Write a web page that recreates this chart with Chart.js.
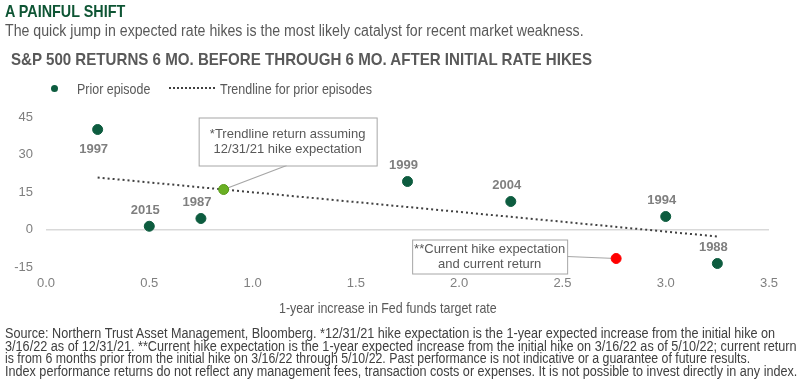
<!DOCTYPE html>
<html>
<head>
<meta charset="utf-8">
<script src="https://cdn.jsdelivr.net/npm/chart.js@4.4.1/dist/chart.umd.min.js"></script>
<style>
  body { margin: 0; width: 800px; height: 379px; position: relative; background: #fff; overflow: hidden;
         font-family: "Liberation Sans Narrow", "Arial Narrow", "Liberation Sans", Arial, sans-serif; }
  #wrap { position: absolute; left: 0; top: 0; width: 800px; height: 379px; }
  .t { position: absolute; white-space: nowrap; transform-origin: 0 50%; line-height: 1; z-index: 2; }
  .dot { position: absolute; width: 7px; height: 7px; border-radius: 50%; background: #0d5c3f; z-index: 2; }
  .dash { position: absolute; width: 46px; border-top: 2px dotted #404040; z-index: 2; }
</style>
</head>
<body>
<div id="wrap"><canvas id="chart" width="800" height="379"></canvas></div>

<div class="t" data-w="120" style="left:5px;top:3px;font-size:17px;font-weight:bold;color:#0e5534">A PAINFUL SHIFT</div>
<div class="t" data-w="579" style="left:5px;top:23px;font-size:16px;color:#595959">The quick jump in expected rate hikes is the most likely catalyst for recent market weakness.</div>
<div class="t" data-w="581" style="left:11px;top:51px;font-size:17px;font-weight:bold;color:#595959">S&amp;P 500 RETURNS 6 MO. BEFORE THROUGH 6 MO. AFTER INITIAL RATE HIKES</div>

<div class="dot" style="left:51px;top:85px"></div>
<div class="t" data-w="73" style="left:77px;top:81px;font-size:15px;color:#595959">Prior episode</div>
<div class="dash" style="left:169px;top:87px"></div>
<div class="t" data-w="152" style="left:220px;top:81px;font-size:15px;color:#595959">Trendline for prior episodes</div>

<div class="t" data-w="218" style="left:279px;top:300px;font-size:15px;color:#595959">1-year increase in Fed funds target rate</div>

<div class="t" data-w="770" style="left:5px;top:326px;font-size:14px;color:#404040">Source: Northern Trust Asset Management, Bloomberg. *12/31/21 hike expectation is the 1-year expected increase from the initial hike on</div>
<div class="t" data-w="792" style="left:5px;top:339px;font-size:14px;color:#404040">3/16/22 as of 12/31/21. **Current hike expectation is the 1-year expected increase from the initial hike on 3/16/22 as of 5/10/22; current return</div>
<div class="t" data-w="745" style="left:5px;top:351px;font-size:14px;color:#404040">is from 6 months prior from the initial hike on 3/16/22 through 5/10/22. Past performance is not indicative or a guarantee of future results.</div>
<div class="t" data-w="792" style="left:5px;top:364px;font-size:14px;color:#404040">Index performance returns do not reflect any management fees, transaction costs or expenses. It is not possible to invest directly in any index.</div>

<script>
// data
const years = ['1997', '2015', '1987', '1999', '2004', '1994', '1988'];
const hikeSize = [0.25, 0.5, 0.75, 1.75, 2.25, 3.0, 3.25];
const spxReturn = [40, 1.3, 4.4, 19.2, 11.2, 5.2, -13.6];
const trendX = [0.25, 3.25];
const trendY = [20.8, -2.8];
const expectedPoint = [0.86, 16.0];
const currentPoint = [2.76, -11.6];
const xTicks = [0, 0.5, 1.0, 1.5, 2.0, 2.5, 3.0, 3.5];
const yTicks = [-15, 0, 15, 30, 45];
const expectedNote = ['*Trendline return assuming', '12/31/21 hike expectation'];
const currentNote = ['**Current hike expectation', 'and current return'];

// squeeze header/footer lines to their widths
document.querySelectorAll('.t[data-w]').forEach(el => {
  const w = parseFloat(el.dataset.w);
  el.style.transform = 'scaleX(' + (w / el.offsetWidth) + ')';
});

const tickFont = { family: '"Liberation Sans", Arial, sans-serif', size: 13 };

function drawNote(ctx, lines, left, top, w, h) {
  ctx.save();
  ctx.fillStyle = '#fff';
  ctx.fillRect(left, top, w, h);
  ctx.strokeStyle = '#a6a6a6';
  ctx.lineWidth = 1;
  ctx.strokeRect(left + 0.5, top + 0.5, w, h);
  ctx.fillStyle = '#595959';
  ctx.font = '13px "Liberation Sans", Arial, sans-serif';
  ctx.textAlign = 'center';
  ctx.textBaseline = 'middle';
  const lh = 15;
  const y0 = top + h / 2 - lh / 2 * (lines.length - 1);
  lines.forEach((s, i) => ctx.fillText(s, left + w / 2, y0 + i * lh));
  ctx.restore();
}

const notesPlugin = {
  id: 'notes',
  beforeDatasetsDraw(chart) {
    const ctx = chart.ctx;
    const g = chart.getDatasetMeta(2).data[0];
    const r = chart.getDatasetMeta(3).data[0];
    ctx.save();
    ctx.strokeStyle = '#a6a6a6';
    ctx.lineWidth = 1.2;
    ctx.beginPath();
    ctx.moveTo(g.x, g.y);
    ctx.lineTo(g.x + 63, g.y - 24);
    ctx.moveTo(r.x, r.y);
    ctx.lineTo(r.x - 49, r.y - 2);
    ctx.stroke();
    ctx.restore();
  },
  afterDatasetsDraw(chart) {
    const ctx = chart.ctx;
    // year labels
    const pts = chart.getDatasetMeta(0).data;
    ctx.save();
    ctx.fillStyle = '#7f7f7f';
    ctx.font = 'bold 13px "Liberation Sans", Arial, sans-serif';
    ctx.textAlign = 'center';
    ctx.textBaseline = 'middle';
    pts.forEach((p, i) => {
      const dy = years[i] === '1997' ? 20 : -16;
      ctx.fillText(years[i], p.x - 4, p.y + dy);
    });
    ctx.restore();
    const g = chart.getDatasetMeta(2).data[0];
    const r = chart.getDatasetMeta(3).data[0];
    drawNote(ctx, expectedNote, g.x - 25, g.y - 72, 178, 48);
    drawNote(ctx, currentNote, r.x - 204, r.y - 19, 155, 34);
  }
};

new Chart(document.getElementById('chart'), {
  type: 'scatter',
  data: {
    datasets: [{
      label: 'Prior episode',
      data: hikeSize.map((x, i) => ({ x: x, y: spxReturn[i] })),
      backgroundColor: '#0d5c3f',
      borderColor: '#0d5c3f',
      pointRadius: 5,
      clip: false,
      order: 1
    }, {
      label: 'Trendline for prior episodes',
      type: 'line',
      data: trendX.map((x, i) => ({ x: x, y: trendY[i] })),
      borderColor: '#404040',
      borderWidth: 2,
      borderDash: [2, 3],
      pointRadius: 0,
      fill: false,
      order: 3
    }, {
      label: 'Expected',
      data: [{ x: expectedPoint[0], y: expectedPoint[1] }],
      backgroundColor: '#6ab023',
      borderColor: '#5a9a1c',
      pointRadius: 5,
      clip: false,
      order: 1
    }, {
      label: 'Current',
      data: [{ x: currentPoint[0], y: currentPoint[1] }],
      backgroundColor: '#ff0000',
      borderColor: '#ff0000',
      pointRadius: 5,
      clip: false,
      order: 1
    }]
  },
  options: {
    responsive: false,
    animation: false,
    layout: { padding: { top: 117, right: 31, left: 0, bottom: 0 } },
    plugins: { legend: { display: false }, tooltip: { enabled: false } },
    scales: {
      x: {
        type: 'linear',
        min: 0, max: 3.5,
        afterBuildTicks: axis => { axis.ticks = xTicks.map(v => ({ value: v })); },
        afterFit: axis => { axis.height = 112; },
        grid: { display: false, drawTicks: false },
        border: { display: false },
        ticks: { color: '#7f7f7f', font: tickFont, padding: 9, callback: v => v.toFixed(1) }
      },
      y: {
        min: -15, max: 45,
        afterBuildTicks: axis => { axis.ticks = yTicks.map(v => ({ value: v })); },
        afterFit: axis => { axis.width = 46; },
        grid: {
          drawTicks: false,
          lineWidth: 1.5,
          color: c => c.tick && c.tick.value === 0 ? '#d9d9d9' : 'rgba(0,0,0,0)'
        },
        border: { display: false },
        ticks: { color: '#7f7f7f', font: tickFont, padding: 13 }
      }
    }
  },
  plugins: [notesPlugin]
});
</script>
</body>
</html>
